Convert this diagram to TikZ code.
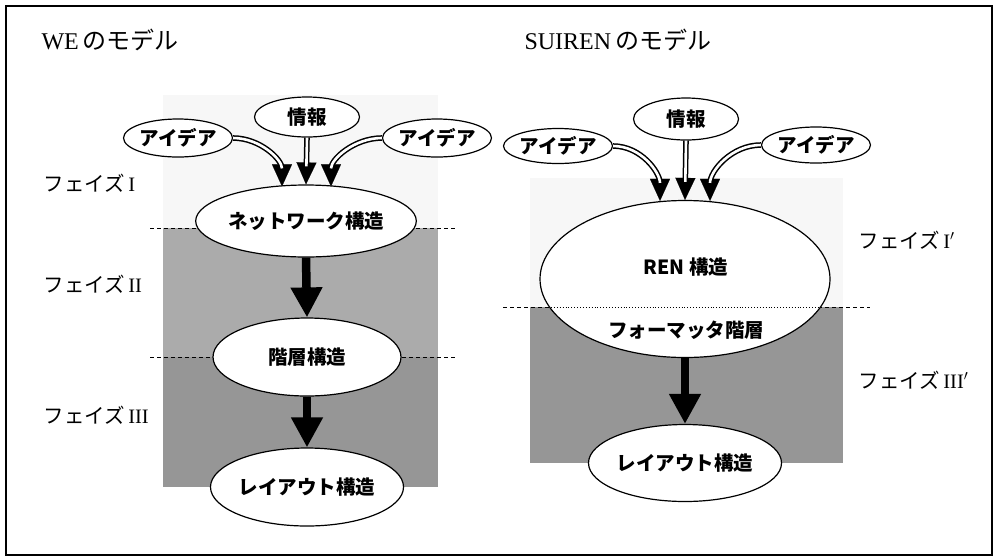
\documentclass[tikz,border=0pt]{standalone}
\usepackage{fontspec}
\setmainfont{Liberation Serif}
\newfontfamily\jp{Noto Sans CJK JP}
\usetikzlibrary{shapes.geometric,arrows.meta,calc}
\begin{document}
\begin{tikzpicture}[x=1pt,y=-1pt,
  ell/.style={ellipse, draw, line width=1.2pt, fill=white, inner sep=0pt,
    font=\jp\bfseries\fontsize{19.5}{20}\selectfont},
  titletext/.style={anchor=west, font=\fontsize{24}{24}\selectfont},
  phase/.style={anchor=west, font=\fontsize{20.5}{21}\selectfont},
  tiponly/.style={line width=0.1pt, -{Triangle[length=22pt,width=20pt]}},
  dbl/.style={double, double distance=2.6pt, line width=1.5pt, shorten >=18pt},
  thick arrow/.style={line width=8.5pt, -{Triangle[length=30pt,width=30pt]}},
  phaseline/.style={dashed, dash pattern=on 4pt off 3pt, line width=0.9pt},
  lightzone/.style={fill=black!3},
  midzone/.style={fill=black!33},
  darkzone/.style={fill=black!41}]
\useasboundingbox (0,0) rectangle (995,558);
\fill[white] (0,0) rectangle (995,558);
\draw[line width=1.5pt] (6,6) rectangle (992,555);

% ---------- left model ----------
\node[titletext] (t1) at (38,40) {WE\,{\jp のモデル}};
\fill[lightzone] (163,95) rectangle (438,228);
\fill[midzone] (163,228) rectangle (438,357);
\fill[darkzone] (163,357) rectangle (438,487);
\draw[phaseline] (150,228) -- (455,228);
\draw[phaseline] (150,357) -- (455,357);

\node[phase] (p1) at (40,183) {{\jp フェイズ}\,I};
\node[phase] (p2) at (40,284) {{\jp フェイズ}\,II};
\node[phase] (p3) at (40,415) {{\jp フェイズ}\,III};

\node[ell, minimum width=105pt, minimum height=40pt] (info) at (307,117) {情報};
\node[ell, minimum width=106pt, minimum height=38pt] (idl) at (178,138) {アイデア};
\node[ell, minimum width=105pt, minimum height=38pt] (idr) at (437,138) {アイデア};
\node[ell, minimum width=182pt, minimum height=72pt] (net) at (306,221) {ネットワーク構造};
\node[ell, minimum width=188pt, minimum height=78pt] (hier) at (307,357) {階層構造};
\node[ell, minimum width=188pt, minimum height=78pt] (lay) at (307,487) {レイアウト構造};

\coordinate (na) at ($(net.north)+(-24,2)$);
\coordinate (nb) at ($(net.north)+(0,0)$);
\coordinate (nc) at ($(net.north)+(25,2)$);
\draw[tiponly] (idl.east) to[out=0,in=90] (na);
\draw[tiponly] (info.south) -- (nb);
\draw[tiponly] (idr.west) to[out=180,in=90] (nc);
\draw[dbl] (idl.east) to[out=0,in=90] (na);
\draw[dbl] (info.south) -- (nb);
\draw[dbl] (idr.west) to[out=180,in=90] (nc);
\draw[thick arrow] (net.south) -- (hier.north);
\draw[thick arrow] (hier.south) -- (lay.north);

% ---------- right model ----------
\node[titletext] (t2) at (521,40) {SUIREN\,{\jp のモデル}};
\fill[lightzone] (530,178) rectangle (843,307);
\fill[darkzone] (530,307) rectangle (843,463);
\draw[phaseline] (503,307) -- (870,307);

\node[phase] (q1) at (855,240) {{\jp フェイズ}\,I$'$};
\node[phase] (q3) at (855,380) {{\jp フェイズ}\,III$'$};

\node[ell, minimum width=105pt, minimum height=42pt] (info2) at (686,119) {情報};
\node[ell, minimum width=104pt, minimum height=35pt] (idl2) at (558,146) {アイデア};
\node[ell, minimum width=102pt, minimum height=36pt] (idr2) at (816,145) {アイデア};
\node[ell, minimum width=290pt, minimum height=157pt] (ren) at (685,279) {};
\node[font=\jp\bfseries\fontsize{19.5}{20}\selectfont] (rent) at (686,267) {REN 構造};
\node[font=\jp\bfseries\fontsize{19.5}{20}\selectfont] (fmt) at (686,330) {フォーマッタ階層};
\draw[dotted, line width=0.9pt] (551,307) -- (819,307);
\node[ell, minimum width=186pt, minimum height=77pt] (lay2) at (685,463) {レイアウト構造};

\coordinate (ra) at ($(ren.north)+(-25,1)$);
\coordinate (rb) at ($(ren.north)+(0,0)$);
\coordinate (rc) at ($(ren.north)+(25,1)$);
\draw[tiponly] (idl2.east) to[out=0,in=90] (ra);
\draw[tiponly] (info2.south) -- (rb);
\draw[tiponly] (idr2.west) to[out=180,in=90] (rc);
\draw[dbl] (idl2.east) to[out=0,in=90] (ra);
\draw[dbl] (info2.south) -- (rb);
\draw[dbl] (idr2.west) to[out=180,in=90] (rc);
\draw[thick arrow] (ren.south) -- (lay2.north);
\end{tikzpicture}
\end{document}
